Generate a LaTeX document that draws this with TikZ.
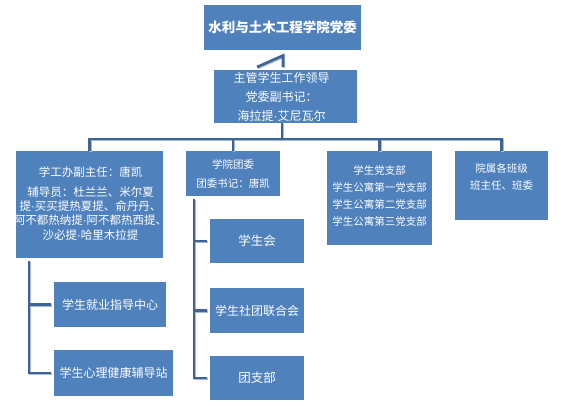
\documentclass[tikz,border=0pt]{standalone}
\usepackage{fontspec}
\setmainfont{Noto Sans CJK SC}
\newfontfamily\narrowdotfont{Liberation Sans}
\newcommand{\ndot}{{\narrowdotfont ·}}
\usetikzlibrary{calc}
\definecolor{boxblue}{RGB}{79,129,189}
\definecolor{linedark}{RGB}{62,99,150}
\definecolor{linelight}{RGB}{165,185,212}
\tikzset{
  box/.style={fill=boxblue, draw=none, text=white, inner sep=0pt, align=center},
  txt/.style={text=white, inner sep=0pt, align=center},
  conn/.style={draw=linedark, line width=2.6pt,
    preaction={draw=linelight, line width=2.6pt, transform canvas={xshift=0.9pt,yshift=-0.9pt}}},
}
\begin{document}
\begin{tikzpicture}[x=1pt,y=-1pt]
\useasboundingbox (0,0) rectangle (561,406);
% boxes
\node[box, minimum width=157pt, minimum height=45pt, font=\fontsize{13.5}{16}\selectfont\bfseries] (top) at (282.5,27.5) {水利与土木工程学院党委};
\node[box, minimum width=143pt, minimum height=53pt] (lead) at (285.5,96.5) {};
\node[txt, xshift=-4pt, font=\fontsize{12}{19}\selectfont] (leadt) at (lead) {主管学生工作领导\\党委副书记：\\海拉提\ndot 艾尼瓦尔};
\node[box, minimum width=147pt, minimum height=107pt] (b1) at (89.5,204.5) {};
\node[txt, xshift=1pt, yshift=1pt, font=\fontsize{11.5}{14.3}\selectfont] (b1t) at (b1) {学工办副主任：唐凯\\[5pt]辅导员：杜兰兰、米尔夏\\提\ndot 买买提热夏提、俞丹丹、\\阿不都热纳提\ndot 阿不都热西提、\\沙必提\ndot 哈里木拉提};
\node[box, minimum width=94pt, minimum height=45pt, font=\fontsize{10.5}{19}\selectfont] (b2) at (233,173.5) {学院团委\\团委书记：唐凯};
\node[box, minimum width=105pt, minimum height=94pt] (b3) at (379.5,198) {};
\node[txt, yshift=2.5pt, font=\fontsize{10.5}{17}\selectfont] (b3t) at (b3) {学生党支部\\学生公寓第一党支部\\学生公寓第二党支部\\学生公寓第三党支部};
\node[box, minimum width=93pt, minimum height=69pt] (b4) at (501.5,185.5) {};
\node[txt, yshift=9pt, font=\fontsize{10.5}{17}\selectfont] (b4t) at (b4) {院属各班级\\班主任、班委};
\node[box, minimum width=112pt, minimum height=45pt, font=\fontsize{12}{14}\selectfont] (s1) at (110,304.5) {学生就业指导中心};
\node[box, minimum width=119pt, minimum height=46pt, font=\fontsize{12}{14}\selectfont] (s2) at (113.5,373) {学生心理健康辅导站};
\node[box, minimum width=94pt, minimum height=44pt, font=\fontsize{12.5}{14}\selectfont] (t1) at (257,241) {学生会};
\node[box, minimum width=94pt, minimum height=45pt, font=\fontsize{12}{14}\selectfont] (t2) at (257,310.5) {学生社团联合会};
\node[box, minimum width=94pt, minimum height=44pt, font=\fontsize{12.5}{14}\selectfont] (t3) at (257,378) {团支部};
% connectors
\coordinate (w1) at (257,67);
\coordinate (w2) at (283,55.5);
\coordinate (w3) at (283,67);
\draw[conn] (w1) -- (w2) -- (w3);
\coordinate (hub) at (282,139);
\draw[conn] (lead.south -| hub) -- (hub);
\draw[conn] (b1.north) |- (hub);
\draw[conn] (b4.north) |- (hub);
\draw[conn] (b2.north) -- (b2.north |- hub);
\draw[conn] (b3.north) -- (b3.north |- hub);
\coordinate (v1) at (29,261);
\draw[conn, shorten >=3pt] (v1) |- (s2.west);
\draw[conn, shorten >=3pt] (s1.west -| v1) -- (s1.west);
\coordinate (v2) at (194,199);
\draw[conn, shorten >=3pt] (v2) |- (t3.west);
\draw[conn, shorten >=3pt] (t1.west -| v2) -- (t1.west);
\draw[conn, shorten >=3pt] (t2.west -| v2) -- (t2.west);
\end{tikzpicture}
\end{document}
